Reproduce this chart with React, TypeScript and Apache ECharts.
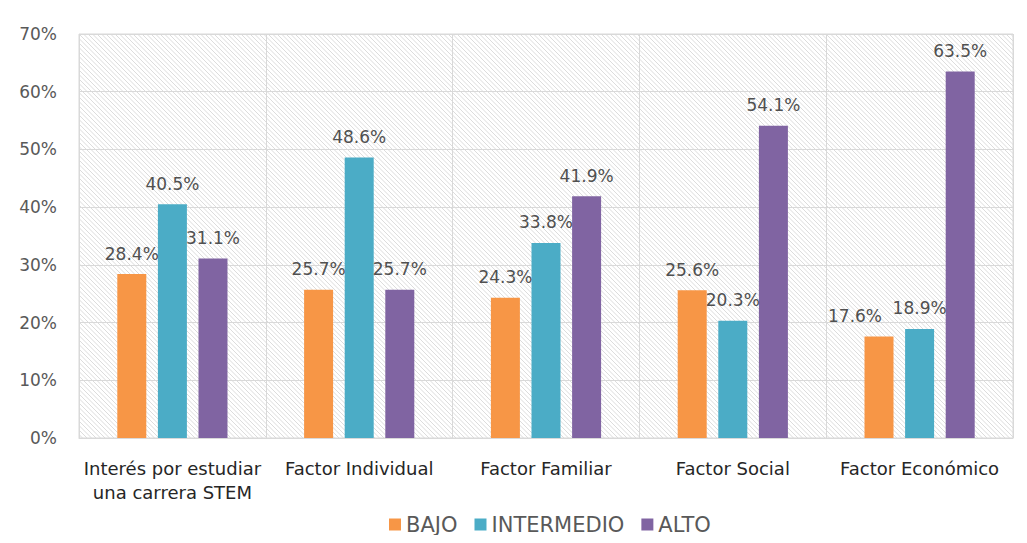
import React, { useEffect, useRef } from "react";
import * as echarts from "echarts";

const categories = [
  "Interés por estudiar\nuna carrera STEM",
  "Factor Individual",
  "Factor Familiar",
  "Factor Social",
  "Factor Económico",
];
const bajo = [28.4, 25.7, 24.3, 25.6, 17.6];
const intermedio = [40.5, 48.6, 33.8, 20.3, 18.9];
const alto = [31.1, 25.7, 41.9, 54.1, 63.5];
const yTicks = [0, 10, 20, 30, 40, 50, 60, 70];

const FONT = "'DejaVu Sans', sans-serif";

function makeHatch(): HTMLCanvasElement {
  const c = document.createElement("canvas");
  const s = 9;
  c.width = s;
  c.height = s;
  const ctx = c.getContext("2d")!;
  ctx.fillStyle = "#ffffff";
  ctx.fillRect(0, 0, s, s);
  ctx.strokeStyle = "#dcdcdc";
  ctx.lineWidth = 1;
  for (let k = -2; k <= 2; k++) {
    ctx.beginPath();
    ctx.moveTo(k * 4.5 - 1, -1);
    ctx.lineTo(k * 4.5 + s + 1, s + 1);
    ctx.stroke();
  }
  return c;
}

export default function App() {
  const ref = useRef<HTMLDivElement>(null);
  useEffect(() => {
    const chart = echarts.init(ref.current!, undefined, { renderer: "svg" });
    const label = {
      show: true,
      position: "top" as const,
      distance: 12,
      color: "#505050",
      fontSize: 17,
      fontFamily: FONT,
      formatter: (p: any) => p.value.toFixed(1) + "%",
    };
    const mk = (
      name: string,
      values: number[],
      color: string,
      shifted: number[] = []
    ) => ({
      name,
      type: "bar",
      data: values.map((v, i) =>
        shifted.includes(i) ? { value: v, label: { offset: [-24, 0] } } : v
      ),
      barWidth: 29,
      barGap: "40%",
      itemStyle: { color },
      label,
    });
    chart.setOption({
      animation: false,
      backgroundColor: "#ffffff",
      textStyle: { fontFamily: FONT },
      graphic: [
        {
          type: "line",
          shape: { x1: 4, y1: 7, x2: 1020, y2: 7 },
          style: { stroke: "#d9d9d9", lineWidth: 2 },
        },
      ],
      grid: {
        left: 79,
        right: 14,
        top: 34,
        bottom: 105,
        show: true,
        backgroundColor: { image: makeHatch(), repeat: "repeat" },
        borderColor: "#d9d9d9",
        borderWidth: 1,
      },
      legend: {
        top: 509,
        left: 384,
        itemWidth: 12,
        itemHeight: 12,
        itemGap: 17,
        icon: "rect",
        textStyle: { color: "#595959", fontSize: 21, fontFamily: FONT },
        data: ["BAJO", "INTERMEDIO", "ALTO"],
      },
      xAxis: {
        type: "category",
        data: categories,
        axisLine: { lineStyle: { color: "#d9d9d9" } },
        axisTick: { show: false },
        splitLine: { show: true, interval: 0, lineStyle: { color: "#d9d9d9" } },
        axisLabel: {
          interval: 0,
          color: "#262626",
          fontSize: 18,
          lineHeight: 24,
          margin: 18,
          fontFamily: FONT,
        },
      },
      yAxis: {
        type: "value",
        min: 0,
        max: 70,
        interval: 10,
        axisLine: { show: false },
        axisTick: { show: false },
        splitLine: { lineStyle: { color: "#d9d9d9" } },
        axisLabel: {
          color: "#595959",
          fontSize: 17,
          margin: 22,
          fontFamily: FONT,
          formatter: (v: number) => (yTicks.includes(v) ? v + "%" : ""),
        },
      },
      series: [
        mk("BAJO", bajo, "#F79646", [4]),
        mk("INTERMEDIO", intermedio, "#4BACC6"),
        mk("ALTO", alto, "#8064A2"),
      ],
    });
    return () => chart.dispose();
  }, []);
  return <div ref={ref} style={{ width: 1027, height: 543, margin: -8 }} />;
}
